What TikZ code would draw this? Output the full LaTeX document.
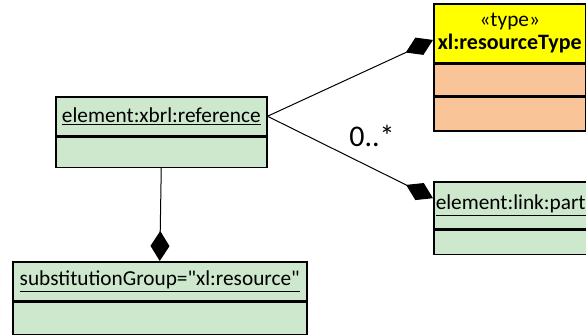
\documentclass[tikz,border=0pt]{standalone}
\usepackage{fontspec}
\setmainfont{Carlito}[Ligatures=TeXOff]
\usetikzlibrary{arrows.meta,positioning}
\definecolor{umlgreen}{RGB}{205,232,204}
\definecolor{umlpeach}{RGB}{248,196,152}
\definecolor{umlyellow}{RGB}{255,255,0}

\begin{document}
\begin{tikzpicture}[x=1pt,y=-1pt,
  box/.style={draw,line width=1.5pt,inner sep=0pt,anchor=north west,
    font=\fontsize{21.3}{24}\selectfont},
  comp/.style={box,fill=umlgreen},
  link/.style={line width=1pt,-{Diamond[length=30pt,width=19pt]}}]

\clip (0,0) rectangle (586,335);

% Reference element
\node[comp,minimum width=211pt,minimum height=39pt] (ref) at (55,96) {\underline{element:xbrl:reference}};
\node[comp,minimum width=211pt,minimum height=30pt] (refb) at (ref.south west) {};

% Resource type
\node[box,fill=umlyellow,minimum width=152pt,minimum height=59pt,align=center] (type) at (433,3)
  {«type»\\[-1pt]\textbf{\fontsize{22}{24}\selectfont xl:resourceType}};
\node[box,fill=umlpeach,minimum width=152pt,minimum height=31pt] (typeb) at (type.south west) {};
\node[box,fill=umlpeach,minimum width=152pt,minimum height=34pt] (typec) at (typeb.south west) {};

% Part element
\node[comp,minimum width=200pt,minimum height=47pt,text width=196pt,align=left] (part) at (433,181)
  {\underline{element:link:part}};
\node[comp,minimum width=200pt,minimum height=24pt] (partb) at (part.south west) {};

% Substitution group
\node[comp,minimum width=294pt,minimum height=39pt] (subst) at (12,261)
  {\underline{substitutionGroup="xl:resource"}};
\node[comp,minimum width=294pt,minimum height=32pt] (substb) at (subst.south west) {};

% Connectors
\draw[link] (ref.east) -- (type.185);
\draw[link] (ref.east) -- (part.176);
\draw[link] (refb.south) -- (subst.north);

% Multiplicity
\node[font=\fontsize{30}{33}\selectfont] (mult) at (372,136) {0..*};

\end{tikzpicture}
\end{document}
